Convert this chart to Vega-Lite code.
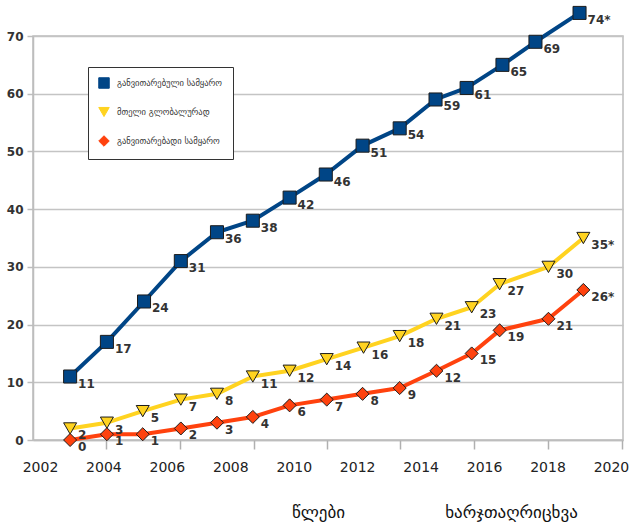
{
  "$schema": "https://vega.github.io/schema/vega-lite/v6.json",
  "width": 590,
  "height": 404,
  "autosize": "none",
  "padding": {"left": 33, "top": 36, "right": 10, "bottom": 88},
  "background": "white",
  "config": {
    "view": {"stroke": "#bdbdbd", "strokeWidth": 1.5},
    "font": "DejaVu Sans",
    "legend": {
      "orient": "none",
      "legendX": 55,
      "legendY": 31,
      "strokeColor": "#333333",
      "fillColor": "white",
      "padding": 10,
      "labelFont": "DejaVu Sans",
      "labelFontSize": 8.5,
      "labelColor": "#333333",
      "symbolSize": 110,
      "rowPadding": 14,
      "labelOffset": 7
    }
  },
  "data": {
    "values": [
      {"series": "განვითარებული სამყარო", "year": 2002.95, "value": 11, "label": "11"},
      {"series": "განვითარებული სამყარო", "year": 2004.11, "value": 17, "label": "17"},
      {"series": "განვითარებული სამყარო", "year": 2005.28, "value": 24, "label": "24"},
      {"series": "განვითარებული სამყარო", "year": 2006.44, "value": 31, "label": "31"},
      {"series": "განვითარებული სამყარო", "year": 2007.58, "value": 36, "label": "36"},
      {"series": "განვითარებული სამყარო", "year": 2008.71, "value": 38, "label": "38"},
      {"series": "განვითარებული სამყარო", "year": 2009.87, "value": 42, "label": "42"},
      {"series": "განვითარებული სამყარო", "year": 2011.01, "value": 46, "label": "46"},
      {"series": "განვითარებული სამყარო", "year": 2012.17, "value": 51, "label": "51"},
      {"series": "განვითარებული სამყარო", "year": 2013.34, "value": 54, "label": "54"},
      {"series": "განვითარებული სამყარო", "year": 2014.47, "value": 59, "label": "59"},
      {"series": "განვითარებული სამყარო", "year": 2015.45, "value": 61, "label": "61"},
      {"series": "განვითარებული სამყარო", "year": 2016.58, "value": 65, "label": "65"},
      {"series": "განვითარებული სამყარო", "year": 2017.62, "value": 69, "label": "69"},
      {"series": "განვითარებული სამყარო", "year": 2019.01, "value": 74, "label": "74*"},
      {"series": "მთელი გლობალურად", "year": 2002.95, "value": 2, "label": "2"},
      {"series": "მთელი გლობალურად", "year": 2004.11, "value": 3, "label": "3"},
      {"series": "მთელი გლობალურად", "year": 2005.24, "value": 5, "label": "5"},
      {"series": "მთელი გლობალურად", "year": 2006.44, "value": 7, "label": "7"},
      {"series": "მთელი გლობალურად", "year": 2007.58, "value": 8, "label": "8"},
      {"series": "მთელი გლობალურად", "year": 2008.71, "value": 11, "label": "11"},
      {"series": "მთელი გლობალურად", "year": 2009.87, "value": 12, "label": "12"},
      {"series": "მთელი გლობალურად", "year": 2011.04, "value": 14, "label": "14"},
      {"series": "მთელი გლობალურად", "year": 2012.20, "value": 16, "label": "16"},
      {"series": "მთელი გლობალურად", "year": 2013.34, "value": 18, "label": "18"},
      {"series": "მთელი გლობალურად", "year": 2014.50, "value": 21, "label": "21"},
      {"series": "მთელი გლობალურად", "year": 2015.61, "value": 23, "label": "23"},
      {"series": "მთელი გლობალურად", "year": 2016.49, "value": 27, "label": "27"},
      {"series": "მთელი გლობალურად", "year": 2018.03, "value": 30, "label": "30"},
      {"series": "მთელი გლობალურად", "year": 2019.13, "value": 35, "label": "35*"},
      {"series": "განვითარებადი სამყარო", "year": 2002.95, "value": 0, "label": "0"},
      {"series": "განვითარებადი სამყარო", "year": 2004.11, "value": 1, "label": "1"},
      {"series": "განვითარებადი სამყარო", "year": 2005.24, "value": 1, "label": "1"},
      {"series": "განვითარებადი სამყარო", "year": 2006.44, "value": 2, "label": "2"},
      {"series": "განვითარებადი სამყარო", "year": 2007.58, "value": 3, "label": "3"},
      {"series": "განვითარებადი სამყარო", "year": 2008.71, "value": 4, "label": "4"},
      {"series": "განვითარებადი სამყარო", "year": 2009.87, "value": 6, "label": "6"},
      {"series": "განვითარებადი სამყარო", "year": 2011.04, "value": 7, "label": "7"},
      {"series": "განვითარებადი სამყარო", "year": 2012.17, "value": 8, "label": "8"},
      {"series": "განვითარებადი სამყარო", "year": 2013.34, "value": 9, "label": "9"},
      {"series": "განვითარებადი სამყარო", "year": 2014.50, "value": 12, "label": "12"},
      {"series": "განვითარებადი სამყარო", "year": 2015.61, "value": 15, "label": "15"},
      {"series": "განვითარებადი სამყარო", "year": 2016.49, "value": 19, "label": "19"},
      {"series": "განვითარებადი სამყარო", "year": 2018.03, "value": 21, "label": "21"},
      {"series": "განვითარებადი სამყარო", "year": 2019.13, "value": 26, "label": "26*"}
    ]
  },
  "encoding": {
    "x": {
      "field": "year",
      "type": "quantitative",
      "scale": {"domain": [2001.78, 2020.38], "nice": false, "zero": false}
    },
    "y": {
      "field": "value",
      "type": "quantitative",
      "scale": {"domain": [0, 70], "nice": false}
    },
    "color": {
      "field": "series",
      "type": "nominal",
      "scale": {
        "domain": ["განვითარებული სამყარო", "მთელი გლობალურად", "განვითარებადი სამყარო"],
        "range": ["#004586", "#ffd320", "#ff420e"]
      },
      "legend": {
        "title": null,
        "encode": {"symbols": {"update": {"stroke": {"value": "#222222"}, "strokeWidth": {"value": 1}}}}
      }
    }
  },
  "layer": [
    {
      "mark": {"type": "line", "strokeWidth": 4, "strokeJoin": "round"},
      "encoding": {
        "x": {
          "field": "year",
          "type": "quantitative",
          "axis": {
            "orient": "bottom",
            "values": [2002, 2004, 2006, 2008, 2010, 2012, 2014, 2016, 2018, 2020],
            "format": "d",
            "ticks": false,
            "grid": false,
            "domainColor": "#bdbdbd",
            "domainWidth": 1.5,
            "labelFont": "DejaVu Sans",
            "labelFontSize": 14,
            "labelColor": "#222222",
            "labelPadding": 20,
            "labelFlush": false,
            "labelOverlap": false,
            "title": "წლები",
            "titleFont": "DejaVu Sans",
            "titleFontSize": 17,
            "titleFontWeight": "normal",
            "titleColor": "#111111",
            "titleAnchor": null,
            "titleAlign": "center",
            "titleBaseline": "alphabetic",
            "titleX": 285,
            "titleY": 77
          }
        },
        "y": {
          "field": "value",
          "type": "quantitative",
          "axis": {
            "values": [0, 10, 20, 30, 40, 50, 60, 70],
            "grid": true,
            "gridColor": "#c4c4c4",
            "gridWidth": 1.5,
            "domainColor": "#bdbdbd",
            "domainWidth": 1.5,
            "tickColor": "#bdbdbd",
            "tickWidth": 1.5,
            "tickSize": 6,
            "labelFont": "DejaVu Sans",
            "labelFontSize": 12,
            "labelFontWeight": "bold",
            "labelColor": "#333333",
            "labelPadding": 4,
            "title": null
          }
        },
        "order": {"field": "year", "type": "quantitative"}
      }
    },
    {
      "mark": {"type": "point", "filled": true, "size": 170, "stroke": "#1c1c1c", "strokeWidth": 1, "opacity": 1},
      "encoding": {
        "x": {
          "field": "year",
          "type": "quantitative",
          "axis": {
            "orient": "bottom",
            "values": [2001.75, 2004.08, 2006.41, 2008.74, 2011.06, 2013.35, 2015.69, 2018.02, 2020.35],
            "labels": false,
            "domain": false,
            "grid": false,
            "ticks": true,
            "tickSize": 9,
            "tickColor": "#b0b0b0",
            "tickWidth": 1.5,
            "title": "ხარჯთაღრიცხვა",
            "titleFont": "DejaVu Sans",
            "titleFontSize": 17,
            "titleFontWeight": "normal",
            "titleColor": "#111111",
            "titleAnchor": null,
            "titleAlign": "center",
            "titleBaseline": "alphabetic",
            "titleX": 478,
            "titleY": 77
          }
        },
        "shape": {
          "field": "series",
          "type": "nominal",
          "scale": {
            "domain": ["განვითარებული სამყარო", "მთელი გლობალურად", "განვითარებადი სამყარო"],
            "range": ["square", "triangle-down", "diamond"]
          },
          "legend": {
            "title": null,
            "encode": {"symbols": {"update": {"stroke": {"value": "#222222"}, "strokeWidth": {"value": 1}}}}
          }
        }
      }
    },
    {
      "mark": {
        "type": "text",
        "align": "left",
        "baseline": "middle",
        "dx": 8,
        "dy": 7,
        "font": "DejaVu Sans",
        "fontSize": 12,
        "fontWeight": "bold"
      },
      "encoding": {
        "x": {"field": "year", "type": "quantitative", "axis": null},
        "text": {"field": "label", "type": "nominal"},
        "color": {"value": "#333333"}
      }
    }
  ],
  "resolve": {"axis": {"x": "independent"}}
}
